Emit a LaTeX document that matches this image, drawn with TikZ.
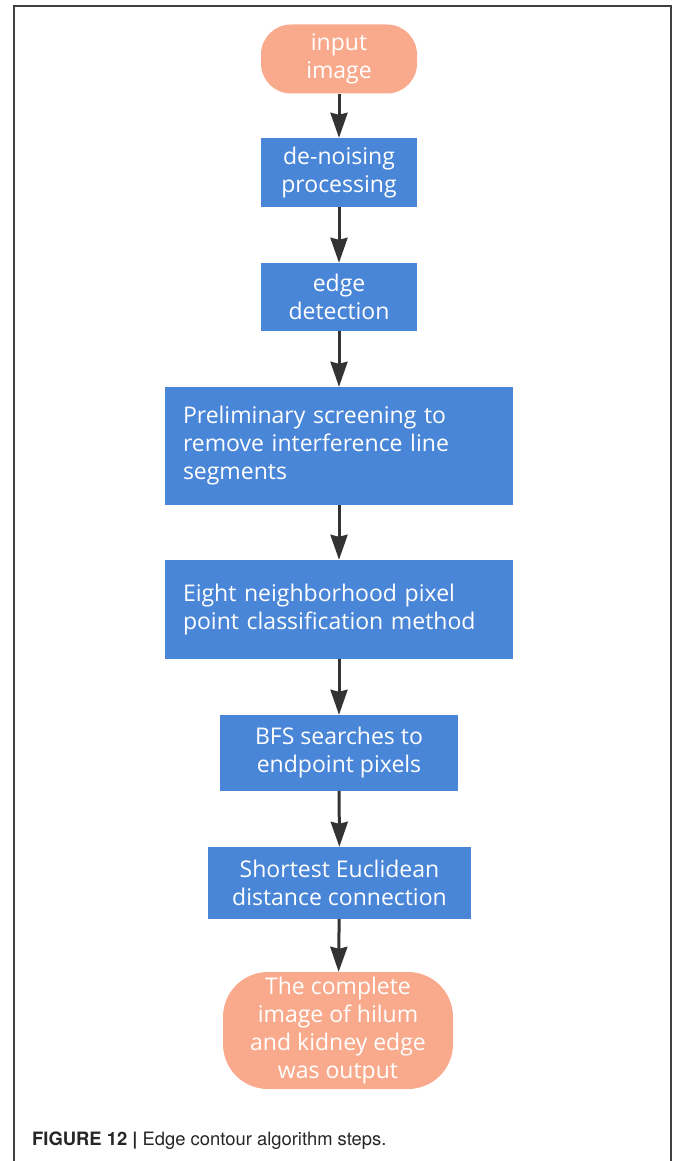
\documentclass[tikz,border=0pt]{standalone}
\usepackage{fontspec}
\setmainfont{Open Sans}
\newfontfamily\capfont{TeX Gyre Heros}
\usetikzlibrary{arrows.meta}
\definecolor{stepblue}{HTML}{4A86D8}
\definecolor{termsalmon}{HTML}{FAAA8C}
\begin{document}
\begin{tikzpicture}[x=1pt,y=-1pt,
        stepbox/.style={fill=stepblue, text=white, inner sep=0pt, font=\fontsize{23}{28}\selectfont, align=center},
        termbox/.style={fill=termsalmon, text=white, inner sep=0pt, font=\fontsize{23}{28}\selectfont, align=center},
        flow/.style={draw=black!80, line width=3pt, -{Stealth[length=25pt,width=17pt,inset=2pt]}}]
        \useasboundingbox (0,0) rectangle (674,1161);
        \draw[black!75, line width=1.5pt] (14,1161) -- (14,6) -- (671,6) -- (671,1161);
        \node[termbox, rounded corners=30pt, minimum width=156pt, minimum height=69pt] (inp) at (339,59) {input\\image};
        \node[stepbox, minimum width=156pt, minimum height=69pt] (den) at (339,172.5) {de-noising\\processing};
        \node[stepbox, minimum width=156pt, minimum height=68pt] (edg) at (339,297) {edge\\detection};
        \node[stepbox, text width=312pt, inner xsep=18pt, align=left, minimum height=118pt] (pre) at (339,446) {Preliminary screening to\\remove interference line\\segments};
        \node[stepbox, text width=312pt, inner xsep=18pt, align=left, minimum height=99pt] (eig) at (339,609.5) {Eight neighborhood pixel\\point classification method};
        \node[stepbox, minimum width=238pt, minimum height=76pt] (bfs) at (339,753) {BFS searches to\\endpoint pixels};
        \node[stepbox, minimum width=263pt, minimum height=72pt] (sho) at (339.5,883) {Shortest Euclidean\\distance connection};
        \node[termbox, rounded corners=45pt, minimum width=230pt, minimum height=117pt] (out) at (338,1030.5) {The complete\\image of hilum\\and kidney edge\\was output};
        \foreach \a/\b in {inp/den,den/edg,edg/pre,pre/eig,eig/bfs,bfs/sho,sho/out}
            \draw[flow] (\a) -- (\b);
        \node[anchor=base west, inner sep=0pt, text=black!85, font=\capfont\fontsize{18.4}{22}\selectfont] (cap) at (32,1145) {\textbf{FIGURE 12 |} Edge contour algorithm steps.};
\end{tikzpicture}
\end{document}
